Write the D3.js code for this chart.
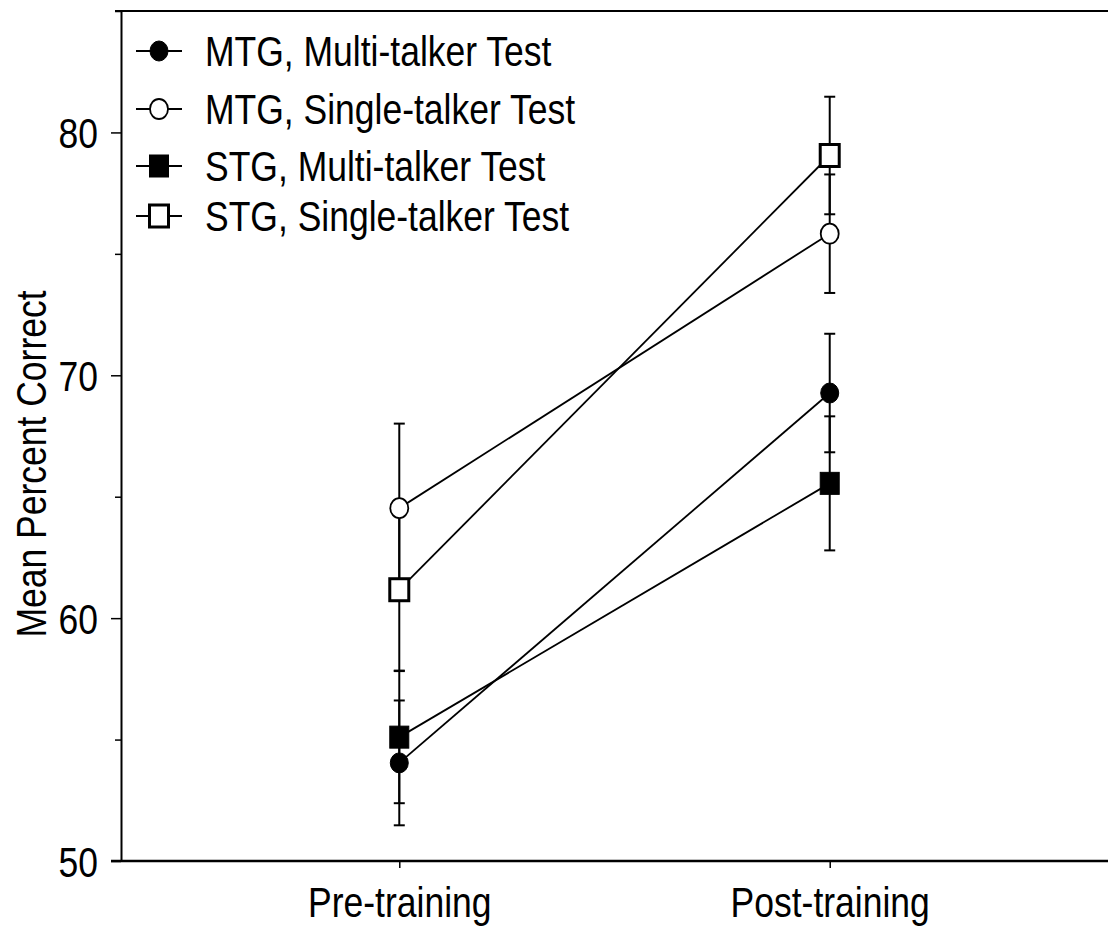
<!DOCTYPE html>
<html>
<head>
<meta charset="utf-8">
<script src="https://cdn.jsdelivr.net/npm/d3@7"></script>
<style>
  html, body { margin: 0; padding: 0; background: #fff; }
  svg { display: block; }
  text { font-family: "Liberation Sans", Arial, sans-serif; fill: #000; }
</style>
</head>
<body>
<svg id="chart" width="1108" height="931"></svg>
<script>
// ---- data ----
const categories = ["Pre-training", "Post-training"];
const seriesNames = ["MTG, Multi-talker Test", "MTG, Single-talker Test", "STG, Multi-talker Test", "STG, Single-talker Test"];
const mtgMulti   = [54.04, 69.27];
const mtgMultiSE = [2.57, 2.44];
const mtgSingle   = [64.53, 75.83];
const mtgSingleSE = [3.48, 2.44];
const stgMulti   = [55.10, 65.55];
const stgMultiSE = [2.72, 2.76];
const stgSingle   = [61.17, 79.05];
const stgSingleSE = [3.33, 2.42];
const majorTicks = [50, 60, 70, 80];
const minorTicks = [55, 65, 75, 85];
const yLabel = "Mean Percent Correct";

const series = [
  { name: seriesNames[0], values: mtgMulti,  se: mtgMultiSE,  shape: "circle", filled: true },
  { name: seriesNames[1], values: mtgSingle, se: mtgSingleSE, shape: "circle", filled: false },
  { name: seriesNames[2], values: stgMulti,  se: stgMultiSE,  shape: "square", filled: true },
  { name: seriesNames[3], values: stgSingle, se: stgSingleSE, shape: "square", filled: false }
];

// ---- layout ----
const svg = d3.select("#chart");
const mLeft = 121, mRight = 1108, mTop = 11, mBottom = 861;
const SX = 0.845; // horizontal condensation of the narrow font
const FS = 42;

const y = d3.scaleLinear().domain([50, 85]).range([mBottom, mTop]);
const x = d3.scalePoint().domain(categories).range([mLeft, mRight]).padding(0.6465);

// ---- axes ----
svg.append("line")
  .attr("x1", mLeft - 6).attr("x2", mRight)
  .attr("y1", y(85)).attr("y2", y(85))
  .attr("stroke", "#000").attr("stroke-width", 2);

svg.append("line")
  .attr("x1", mLeft - 10).attr("x2", mRight)
  .attr("y1", mBottom).attr("y2", mBottom)
  .attr("stroke", "#000").attr("stroke-width", 2.5);

const yAxis = svg.append("g")
  .attr("transform", `translate(${mLeft},0)`)
  .call(d3.axisLeft(y).tickValues(majorTicks).tickSize(10).tickSizeOuter(0).tickFormat(d3.format("d")));
yAxis.select(".domain").attr("stroke", "#000").attr("stroke-width", 2);
yAxis.selectAll(".tick line").attr("stroke", "#000").attr("stroke-width", 1.5);
yAxis.selectAll(".tick text")
  .attr("x", null).attr("dy", null)
  .attr("transform", `translate(-23,15) scale(${SX},1)`)
  .attr("text-anchor", "end")
  .style("font-size", FS + "px")
  .style("font-family", '"Liberation Sans", Arial, sans-serif')
  .attr("fill", "#000");

const yMinor = svg.append("g")
  .attr("transform", `translate(${mLeft},0)`)
  .call(d3.axisLeft(y).tickValues(minorTicks).tickSize(6).tickFormat(""));
yMinor.select(".domain").remove();
yMinor.selectAll(".tick line").attr("stroke", "#000").attr("stroke-width", 1.5);

const xAxis = svg.append("g")
  .attr("transform", `translate(0,${mBottom})`)
  .call(d3.axisBottom(x).tickSize(7).tickSizeOuter(0));
xAxis.select(".domain").remove();
xAxis.selectAll(".tick line").attr("stroke", "#000").attr("stroke-width", 1.5);
xAxis.selectAll(".tick text")
  .attr("y", null).attr("dy", null)
  .attr("transform", `translate(0,56) scale(${SX},1)`)
  .attr("text-anchor", "middle")
  .style("font-size", FS + "px")
  .style("font-family", '"Liberation Sans", Arial, sans-serif')
  .attr("fill", "#000");

svg.append("text")
  .attr("transform", `translate(46,464) rotate(-90) scale(${SX},1)`)
  .attr("text-anchor", "middle")
  .style("font-size", FS + "px")
  .text(yLabel);

// ---- marks ----
const capW = 5.5;
const g = svg.append("g");

series.forEach(s => {
  s.values.forEach((v, i) => {
    const cx = x(categories[i]);
    const hi = y(v + s.se[i]), lo = y(v - s.se[i]);
    g.append("line").attr("x1", cx).attr("x2", cx).attr("y1", hi).attr("y2", lo)
      .attr("stroke", "#000").attr("stroke-width", 2);
    [hi, lo].forEach(yy => {
      g.append("line").attr("x1", cx - capW).attr("x2", cx + capW).attr("y1", yy).attr("y2", yy)
        .attr("stroke", "#000").attr("stroke-width", 2);
    });
  });
});

const line = d3.line().x((d, i) => x(categories[i])).y(d => y(d));
series.forEach(s => {
  g.append("path").attr("d", line(s.values))
    .attr("fill", "none").attr("stroke", "#000").attr("stroke-width", 1.8);
});

function drawMarker(sel, s, cx, cy) {
  if (s.shape === "circle") {
    sel.append("ellipse").attr("cx", cx).attr("cy", cy).attr("rx", 9).attr("ry", 10)
      .attr("fill", s.filled ? "#000" : "#fff")
      .attr("stroke", "#000").attr("stroke-width", s.filled ? 1 : 1.8);
  } else {
    const w = 19, h = 22;
    sel.append("rect").attr("x", cx - w / 2).attr("y", cy - h / 2).attr("width", w).attr("height", h)
      .attr("fill", s.filled ? "#000" : "#fff")
      .attr("stroke", "#000").attr("stroke-width", s.filled ? 1 : 3);
  }
}

series.forEach(s => {
  s.values.forEach((v, i) => drawMarker(g, s, x(categories[i]), y(v)));
});

// ---- legend ----
const legendRows = [51, 109, 166, 216];
const lg = svg.append("g");
series.forEach((s, i) => {
  const cy = legendRows[i];
  lg.append("line").attr("x1", 136).attr("x2", 182).attr("y1", cy).attr("y2", cy)
    .attr("stroke", "#000").attr("stroke-width", 1.8);
  drawMarker(lg, s, 159, cy);
  lg.append("text")
    .attr("transform", `translate(205,${cy + 15}) scale(${SX},1)`)
    .style("font-size", FS + "px")
    .text(s.name);
});
</script>
</body>
</html>
